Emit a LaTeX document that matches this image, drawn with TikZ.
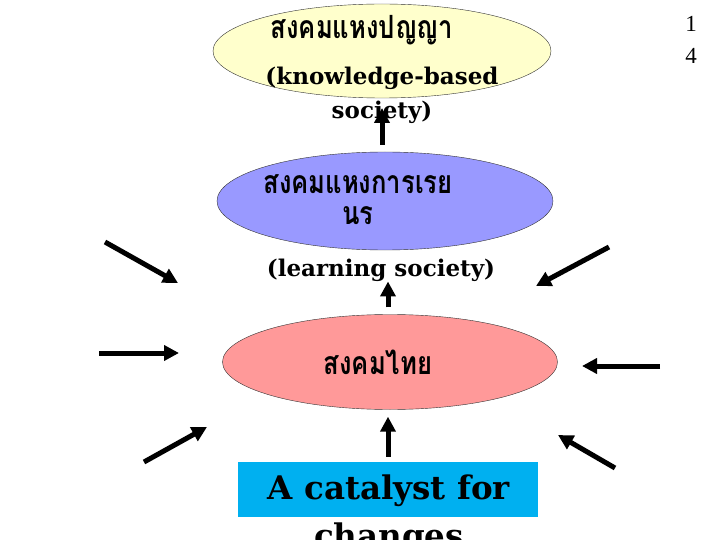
\documentclass[tikz,border=0pt]{standalone}
\usepackage{fontspec}
\setmainfont{DejaVu Serif}
\newfontfamily\thaifont[Script=Thai, FakeStretch=0.8]{Loma}
\newfontfamily\pagefont{Liberation Serif}
\usetikzlibrary{shapes.geometric, arrows.meta, positioning}
\definecolor{wisdomyellow}{HTML}{FFFFCC}
\definecolor{learnblue}{HTML}{9999FF}
\definecolor{thaipink}{HTML}{FF9999}
\definecolor{catalystcyan}{HTML}{00B0F0}

\begin{document}
\begin{tikzpicture}[
  x=1pt, y=-1pt,
  society/.style={ellipse, draw=black!80, thin, inner sep=0pt},
  thaitext/.style={font=\thaifont\bfseries\fontsize{32}{31}\selectfont, inner sep=0pt, align=center},
  engtext/.style={font=\bfseries\fontsize{23}{34}\selectfont, inner sep=0pt, align=center},
  arr/.style={-{Triangle[length=15pt,width=15pt]}, line width=5pt, black}
]
\useasboundingbox (0,0) rectangle (720,540);

\node[society, fill=wisdomyellow, minimum width=338pt, minimum height=94pt] (wisdom) at (382,51) {};
\node[thaitext] (wisdomth) at (362,30) {สงคมแหงปญญา};
\node[engtext] (wisdomen) at (382,95) {(knowledge-based\\society)};

\node[society, fill=learnblue, minimum width=336pt, minimum height=98pt] (learning) at (385,201) {};
\node[thaitext] (learningth) at (358,200) {สงคมแหงการเรย\\นร};
\node[engtext] (learningen) at (381,270) {(learning society)};

\node[society, fill=thaipink, minimum width=335pt, minimum height=95pt] (thai) at (390,362) {};
\node[thaitext] (thaith) at (378,362) {สงคมไทย};

\node[fill=catalystcyan, minimum width=300pt, minimum height=55pt, inner sep=0pt] (catalyst) at (388,489.5) {};
\node[font=\bfseries\fontsize{32.5}{48}\selectfont, align=center, anchor=north, inner sep=0pt] (catalysttext) at (389,475) {A catalyst for\\changes};

\node[font=\pagefont\fontsize{23}{32}\selectfont, align=center, inner sep=0pt] (pagenum) at (691,40) {1\\4};

\draw[arr, shorten <=5pt, shorten >=7pt] (catalyst.north) -- (catalyst.north |- thai.south);
\draw[arr, shorten <=7pt] (thai.north -| catalyst.north) -- (catalyst.north |- learningen.south);
\draw[arr, shorten <=7pt, shorten >=13pt] (learning.north -| wisdomen.center) -- (wisdomen.center);

% arrows from outside
\coordinate (nwfrom) at (105,242);
\coordinate (nwto) at (178,283);
\coordinate (wfrom) at (99,353);
\coordinate (wto) at (179,353);
\coordinate (swfrom) at (144,462);
\coordinate (swto) at (207,427);
\coordinate (nefrom) at (609,247);
\coordinate (neto) at (536,286);
\coordinate (efrom) at (660,366);
\coordinate (eto) at (582,366);
\coordinate (sefrom) at (615,468);
\coordinate (seto) at (558,435);

\draw[arr] (nwfrom) -- (nwto);
\draw[arr] (wfrom) -- (wto);
\draw[arr] (swfrom) -- (swto);
\draw[arr] (nefrom) -- (neto);
\draw[arr] (efrom) -- (eto);
\draw[arr] (sefrom) -- (seto);
\end{tikzpicture}
\end{document}
